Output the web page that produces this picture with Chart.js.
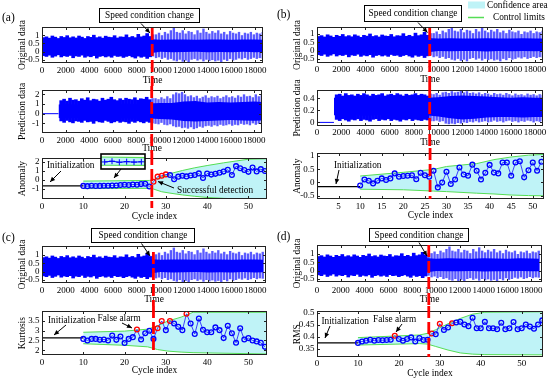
<!DOCTYPE html>
<html><head><meta charset="utf-8">
<script src="https://cdn.jsdelivr.net/npm/chart.js@4.4.1/dist/chart.umd.min.js"></script>
<style>
html,body{margin:0;padding:0;background:#fff;}
body{width:550px;height:380px;position:relative;overflow:hidden;}
canvas{position:absolute;}
</style></head><body>
<script>
// ---------------- DATA ----------------
const timeTicks = [0,2000,4000,6000,8000,10000,12000,14000,16000,18000];
const cycleTicks = [0,10,20,30,40,50];
const cycleTicksB = [5,10,15,20,25,30,35,40,45,50];
const BLOCK = 250; // width of one signal block on the time axis

// original vibration signal: extreme spikes per 250-sample block
const origPeakHi = [0.85,0.9,0.82,0.95,0.88,0.8,0.92,0.86,0.97,0.84,0.9,0.83,0.95,0.88,0.8,0.92,0.87,1.0,0.85,0.9,0.82,0.94,0.88,0.86,0.97,0.83,0.9,0.88,1.02,0.86,0.92,0.85,1.05,0.9,0.95,1.1,0.92,1.05,
  1.05,1.15,1.0,1.2,1.1,1.3,1.45,1.2,1.15,1.3,1.1,1.25,1.2,1.05,1.3,1.15,1.4,1.2,1.1,1.25,1.15,1.3,1.1,1.2,1.05,1.25,1.15,1.1,1.2,1.0,1.15,1.1,1.2,1.05,1.15,1.1,1.2];
const origPeakLo = [-0.25,-0.3,-0.22,-0.35,-0.28,-0.2,-0.33,-0.26,-0.3,-0.24,-0.38,-0.27,-0.3,-0.22,-0.35,-0.28,-0.32,-0.25,-0.4,-0.3,-0.26,-0.33,-0.28,-0.35,-0.24,-0.3,-0.28,-0.36,-0.3,-0.25,-0.33,-0.4,-0.28,-0.35,-0.3,-0.42,-0.32,-0.3,
  -0.4,-0.35,-0.45,-0.38,-0.5,-0.45,-0.55,-0.6,-0.5,-0.62,-0.55,-0.65,-0.5,-0.45,-0.55,-0.48,-0.6,-0.5,-0.58,-0.52,-0.6,-0.55,-0.65,-0.5,-0.58,-0.45,-0.55,-0.5,-0.42,-0.48,-0.4,-0.5,-0.45,-0.38,-0.45,-0.4,-0.42];
const coreTimes = [0,1000,2000,3000,4000,5000,6000,7000,8000,9000,10000,11000,12000,13000,14000,15000,16000,17000,18000,18650];
const origCoreHi = [0.72,0.74,0.72,0.75,0.73,0.74,0.72,0.75,0.74,0.76,0.72,0.74,0.73,0.72,0.74,0.73,0.72,0.74,0.73,0.72];
const origCoreLo = [-0.12,-0.14,-0.12,-0.15,-0.13,-0.12,-0.14,-0.13,-0.15,-0.12,-0.02,-0.04,-0.03,-0.02,-0.05,-0.03,-0.04,-0.02,-0.04,-0.03];

// prediction signals (start at t = 1400)
const predStart = 1400;
const predCoreTimes = [1400,2000,3000,4000,5000,6000,7000,8000,9000,10000,11000,12000,13000,14000,15000,16000,17000,18000,18650];
const predAPeakHi = [null,null,null,null,null,null,
  1.35,1.5,1.3,1.6,1.4,1.45,1.3,1.55,1.4,1.65,1.35,1.5,1.45,1.3,1.6,1.4,1.5,1.7,1.45,1.35,1.55,1.4,1.6,1.5,1.45,1.65,1.4,1.55,1.5,1.7,1.45,1.6,
  1.6,1.5,1.7,1.55,1.8,1.6,2.0,2.2,2.1,2.25,2.0,1.8,1.9,1.7,1.85,1.6,1.75,1.9,1.65,1.8,1.7,1.85,1.6,1.75,1.9,1.7,1.8,1.65,1.9,1.75,2.0,1.8,1.85,1.7,2.0,1.8,1.9];
const predAPeakLo = [null,null,null,null,null,null,
  -0.75,-0.9,-0.7,-0.85,-0.95,-0.75,-0.8,-0.9,-0.7,-0.85,-0.8,-1.0,-0.75,-0.85,-0.9,-0.7,-0.8,-0.95,-0.85,-0.75,-0.9,-0.8,-0.85,-1.0,-0.8,-0.9,-0.75,-0.85,-0.95,-0.8,-0.9,-1.0,
  -1.05,-1.1,-0.95,-1.15,-1.2,-1.1,-1.3,-1.4,-1.35,-1.5,-1.45,-1.55,-1.4,-1.6,-1.5,-1.35,-1.45,-1.3,-1.25,-1.35,-1.2,-1.3,-1.15,-1.25,-1.2,-1.1,-1.25,-1.15,-1.2,-1.05,-1.15,-1.1,-1.2,-1.0,-1.15,-1.05,-1.1];
const predACoreHi = [0.95,1.0,0.95,1.05,1.0,0.95,1.05,1.0,1.05,1.1,1.1,1.25,1.3,1.15,1.2,1.15,1.2,1.25,1.2];
const predACoreLo = [-0.45,-0.5,-0.45,-0.5,-0.48,-0.45,-0.5,-0.52,-0.5,-0.55,-0.6,-0.75,-0.8,-0.75,-0.7,-0.65,-0.7,-0.72,-0.7];

const predBPeakHi = [null,null,null,null,null,null,
  0.46,0.47,0.44,0.48,0.45,0.46,0.44,0.47,0.45,0.48,0.46,0.44,0.47,0.45,0.46,0.48,0.44,0.46,0.47,0.45,0.48,0.46,0.44,0.47,0.45,0.46,0.48,0.45,0.47,0.46,0.44,0.48,
  0.47,0.49,0.46,0.5,0.51,0.49,0.52,0.5,0.51,0.53,0.5,0.52,0.49,0.5,0.48,0.5,0.47,0.49,0.48,0.46,0.49,0.47,0.48,0.46,0.49,0.47,0.45,0.48,0.46,0.47,0.45,0.48,0.46,0.47,0.45,0.47,0.46];
const predBPeakLo = [null,null,null,null,null,null,
  0.05,0.03,0.06,0.04,0.02,0.05,0.04,0.06,0.03,0.05,0.04,0.02,0.05,0.06,0.03,0.05,0.04,0.06,0.03,0.05,0.04,0.02,0.05,0.04,0.06,0.03,0.05,0.04,0.03,0.05,0.04,0.02,
  0.02,0.03,0.01,0.02,-0.02,-0.03,-0.02,-0.03,-0.01,-0.02,0.0,-0.01,0.01,0.0,0.02,0.0,0.01,0.02,0.0,0.01,0.03,0.01,0.02,0.0,0.02,0.03,0.01,0.02,0.0,0.02,0.01,0.03,0.02,0.0,0.02,0.01,0.02];
const predBCoreHi = [0.41,0.42,0.41,0.42,0.41,0.42,0.41,0.42,0.41,0.42,0.44,0.45,0.44,0.43,0.42,0.41,0.42,0.41,0.41];
const predBCoreLo = [0.12,0.11,0.12,0.11,0.12,0.11,0.12,0.11,0.12,0.1,0.07,0.05,0.06,0.08,0.09,0.09,0.08,0.09,0.09];

// (a) anomaly
const cyclesA = [10,11,12,13,14,15,16,17,18,19,20,21,22,23,24,25,26,27,28,29,30,31,32,33,34,35,36,37,38,39,40,41,42,43,44,45,46,47,48,49,50,51,52,53,54];
const anomalyA = [-0.65,-0.68,-0.64,-0.66,-0.65,-0.64,-0.63,-0.62,-0.6,-0.56,-0.52,-0.55,-0.5,-0.52,-0.45,-0.42,-0.72,-0.2,0.37,0.47,
  0.62,0.55,0.08,0.37,0.47,0.4,0.5,0.55,0.73,0.23,0.72,0.6,0.68,0.8,0.93,1.13,0.55,1.53,1.3,1.1,0.9,1.37,0.95,1.2,1.0];
const alarmsA = [27,28,29,30];
const initA = -0.65;
const bandAX  = [10,26,27,29,31,34,37,40,44,47,50,55];
const bandAHi = [-0.12,-0.05,0.05,0.35,0.7,1.05,1.35,1.6,1.9,2.1,2.3,2.35];
const bandALo = [-0.95,-0.92,-1.0,-1.3,-1.45,-1.65,-1.8,-1.93,-2.03,-2.08,-2.1,-2.1];
// zoomed inset of (a)
const insetX = [1,2,3,4,5,6];
const insetVals = [0.47,0.52,0.45,0.49,0.46,0.48];
const insetBandX = [0.5,6.5];
const insetHi = [0.8,0.76];
const insetLo = [0.25,0.24];

// (b) anomaly
const cyclesB = [10,11,12,13,14,15,16,17,18,19,20,21,22,23,24,25,26,27,28,29,30,31,32,33,34,35,36,37,38,39,40,41,42,43,44,45,46,47,48,49,50,51,52];
const anomalyB = [-0.12,0.11,0.06,-0.04,0.06,0.15,0.09,0.15,0.34,0.21,0.24,0.25,0.27,0.12,0.36,0.27,0.21,0.44,-0.19,-0.01,
  0.4,-0.06,0.11,0.56,0.3,0.25,0.67,0.44,0.11,0.36,0.66,0.37,0.34,0.75,0.75,0.25,0.75,0.8,0.19,0.46,0.75,0.44,0.78];
const alarmsB = [];
const initB = -0.16;
const bandBX  = [10,20,27,30,37,41,45,49,53];
const bandBHi = [0.24,0.38,0.49,0.6,0.71,0.86,0.96,1.03,1.06];
const bandBLo = [-0.26,-0.28,-0.33,-0.35,-0.41,-0.44,-0.48,-0.5,-0.51];

// (c) kurtosis
const cyclesC = cyclesA;
const kurtosisC = [2.58,2.5,2.58,2.58,2.53,2.55,2.5,2.75,2.53,2.7,2.37,2.58,2.67,3.06,2.55,2.87,3.0,2.58,3.13,3.5,
  3.03,3.5,3.37,3.2,3.03,3.87,3.37,2.83,3.63,3.05,2.92,2.92,3.17,3.03,2.62,3.25,2.87,2.38,3.13,2.55,2.62,2.5,2.45,2.38,2.17];
const alarmsC = [23,28,29,31,35];
const initC = 2.63;
const bandCX  = [10,20,25.6,28,30.5,33.7,36.6,55];
const bandCHi = [2.92,2.98,3.08,3.25,3.5,3.7,3.95,3.95];
const bandCLo = [2.33,2.25,2.17,2.03,1.95,1.9,1.87,1.8];

// (d) RMS
const cyclesD = [10,11,12,13,14,15,16,17,18,19,20,21,22,23,24,25,26,27,28,29,30,31,32,33,34,35,36,37,38,39,40,41,42,43,44,45,46,47,48,49,50,51,52,53,54,55];
const rmsD = [0.375,0.381,0.384,0.388,0.384,0.387,0.386,0.387,0.388,0.405,0.391,0.384,0.391,0.398,0.381,0.395,0.387,0.388,0.414,0.411,
  0.455,0.429,0.439,0.457,0.46,0.463,0.452,0.445,0.48,0.436,0.436,0.463,0.436,0.436,0.432,0.459,0.432,0.436,0.462,0.432,0.436,0.452,0.443,0.434,0.452,0.469];
const alarmsD = [19,28,30,33];
const initD = 0.375;
const bandDX  = [10,25,27,29,32,35,38,41,56];
const bandDHi = [0.397,0.408,0.415,0.43,0.455,0.477,0.495,0.503,0.505];
const bandDLo = [0.366,0.372,0.37,0.36,0.345,0.333,0.328,0.326,0.325];

const speedChangeTime = 9300;

// ---------------- STYLE / HELPERS ----------------
const FONT = '"Liberation Serif","Times New Roman",serif';
Chart.defaults.font.family = FONT;
Chart.defaults.color = '#000';
const BLUE = '#0000ff', GREEN = '#55dd55', CYAN = '#bff3f7', RED = '#ff0000';
const TXT = 9.3;

function arrow(ctx, x1, y1, x2, y2) {
  ctx.strokeStyle = '#000'; ctx.lineWidth = 1; ctx.setLineDash([]);
  ctx.beginPath(); ctx.moveTo(x1, y1); ctx.lineTo(x2, y2); ctx.stroke();
  const a = Math.atan2(y2 - y1, x2 - x1), L = 5, W = 2.3;
  ctx.beginPath(); ctx.moveTo(x2, y2);
  ctx.lineTo(x2 - L * Math.cos(a) + W * Math.sin(a), y2 - L * Math.sin(a) - W * Math.cos(a));
  ctx.lineTo(x2 - L * Math.cos(a) - W * Math.sin(a), y2 - L * Math.sin(a) + W * Math.cos(a));
  ctx.closePath(); ctx.fillStyle = '#000'; ctx.fill();
}

function decorPlugin(p) {
  return {
    id: 'decor',
    afterDraw(chart) {
      const ctx = chart.ctx, ca = chart.chartArea;
      const cx = p.canvas[0], cy = p.canvas[1];
      const X = v => v - cx, Y = v => v - cy;
      const xs = chart.scales.x, ys = chart.scales.y;
      ctx.save();
      const l = Math.round(ca.left) + 0.5, t = Math.round(ca.top) + 0.5, r = Math.round(ca.right) - 0.5, b = Math.round(ca.bottom) - 0.5;
      ctx.strokeStyle = '#222'; ctx.lineWidth = 1;
      ctx.strokeRect(l, t, r - l, b - t);
      ctx.beginPath();
      p.xTicks.forEach(v => { const px = Math.round(xs.getPixelForValue(v)) + 0.5; if (px < l || px > r) return;
        ctx.moveTo(px, b); ctx.lineTo(px, b - 2.5); ctx.moveTo(px, t); ctx.lineTo(px, t + 2.5); });
      p.yTicks.forEach(v => { const py = Math.round(ys.getPixelForValue(v)) + 0.5;
        ctx.moveTo(l, py); ctx.lineTo(l + 2.5, py); ctx.moveTo(r, py); ctx.lineTo(r - 2.5, py); });
      ctx.stroke();
      if (p.red) {
        const px = xs.getPixelForValue(p.red.v);
        ctx.strokeStyle = RED; ctx.lineWidth = 2.8; ctx.setLineDash([12, 4]);
        ctx.beginPath(); ctx.moveTo(px, Y(p.red.y0)); ctx.lineTo(px, Y(p.red.y1)); ctx.stroke();
        ctx.setLineDash([]);
      }
      ctx.textBaseline = 'middle';
      if (p.label) { ctx.fillStyle = '#000'; ctx.font = '11.5px ' + FONT; ctx.textAlign = 'left'; ctx.fillText(p.label[0], X(p.label[1]), Y(p.label[2])); }
      if (p.speedBox) {
        const [bl, bt, br, bb] = p.speedBox;
        ctx.fillStyle = '#fff'; ctx.fillRect(X(bl), Y(bt), br - bl, bb - bt);
        ctx.strokeStyle = '#000'; ctx.lineWidth = 1; ctx.strokeRect(X(bl) + 0.5, Y(bt) + 0.5, br - bl - 1, bb - bt - 1);
        ctx.fillStyle = '#000'; ctx.font = TXT + 'px ' + FONT; ctx.textAlign = 'center';
        ctx.fillText('Speed condition change', X((bl + br) / 2), Y((bt + bb) / 2) + 0.5);
        const a = p.speedArrow; arrow(ctx, X(a[0]), Y(a[1]), X(a[2]), Y(a[3]));
      }
      if (p.legend) {
        ctx.fillStyle = CYAN; ctx.fillRect(X(468), Y(1.5), 17, 7);
        ctx.strokeStyle = GREEN; ctx.lineWidth = 1.5; ctx.beginPath(); ctx.moveTo(X(468), Y(17.5)); ctx.lineTo(X(484), Y(17.5)); ctx.stroke();
        ctx.fillStyle = '#000'; ctx.font = TXT + 'px ' + FONT; ctx.textAlign = 'left';
        ctx.fillText('Confidence area', X(487), Y(6));
        ctx.fillText('Control limits', X(493), Y(17.5));
      }
      (p.texts || []).forEach(tx => { ctx.fillStyle = '#000'; ctx.font = TXT + 'px ' + FONT; ctx.textAlign = 'left'; ctx.fillText(tx[0], X(tx[1]), Y(tx[2])); });
      (p.arrows || []).forEach(a => arrow(ctx, X(a[0]), Y(a[1]), X(a[2]), Y(a[3])));
      ctx.restore();
    }
  };
}

function makeCanvas(r) {
  const cv = document.createElement('canvas');
  cv.width = r[2]; cv.height = r[3];
  Object.assign(cv.style, {left: r[0] + 'px', top: r[1] + 'px', width: r[2] + 'px', height: r[3] + 'px'});
  document.body.appendChild(cv);
  return cv;
}

function makePanel(p) {
  const [cx, cy, cw, ch] = p.canvas; const [l, t, r, b] = p.plot;
  const cv = makeCanvas(p.canvas);
  const tsz = 9.5, tlh = tsz * 1.2;
  const xTitlePad = (cy + ch) - p.xTitleY - tlh / 2;
  const yTitlePad = (p.yTitleX - cx) - tlh / 2;
  const tickFont = {family: FONT, size: 9};
  return new Chart(cv, {
    type: 'line',
    data: {datasets: p.datasets},
    options: {
      responsive: false, animation: false, events: [], devicePixelRatio: 1,
      layout: {padding: {left: 0, top: t - cy, right: cx + cw - r, bottom: 0}},
      plugins: {legend: {display: false}, tooltip: {enabled: false}, filler: {drawTime: p.fillTime || 'beforeDatasetDraw'}},
      scales: {
        x: {type: 'linear', min: p.xMin, max: p.xMax, offset: false,
          grid: {display: false, drawTicks: false, offset: false}, border: {display: false},
          ticks: {font: tickFont, padding: p.xTickPad ?? 2, maxRotation: 0, minRotation: 0, autoSkip: false, callback: v => String(v)},
          afterBuildTicks: s => { s.ticks = p.xTicks.map(v => ({value: v})); },
          afterFit: s => { s.height = (cy + ch) - b; s.paddingLeft = 0; s.paddingRight = 0; },
          title: {display: true, text: p.xTitle, font: {family: FONT, size: tsz, lineHeight: 1.2}, padding: {top: 0, bottom: xTitlePad}}},
        y: {type: 'linear', min: p.yMin, max: p.yMax,
          grid: {display: false, drawTicks: false}, border: {display: false},
          ticks: {font: tickFont, padding: 2.5, autoSkip: false, callback: v => String(v)},
          afterBuildTicks: s => { s.ticks = p.yTicks.map(v => ({value: v})); },
          afterFit: s => { s.width = l - cx; s.paddingTop = 0; s.paddingBottom = 0; },
          title: {display: true, text: p.yTitle, font: {family: FONT, size: tsz, lineHeight: 1.2}, padding: {top: yTitlePad, bottom: 0}}}
      }
    },
    plugins: [decorPlugin(p)]
  });
}

function signalDatasets(peakHi, peakLo, cT, cHi, cLo, flatUntil) {
  const pre = [], post = [];
  peakHi.forEach((h, i) => {
    if (h === null) return;
    const x = i * BLOCK + BLOCK / 2;
    (x < speedChangeTime ? pre : post).push({x, y: [peakLo[i], h]});
  });
  const ds = [
    {type: 'line', data: cT.map((x, i) => ({x, y: cHi[i]})), borderWidth: 0, borderColor: 'rgba(0,0,0,0)', pointRadius: 0, fill: '+1', backgroundColor: BLUE, order: 0},
    {type: 'line', data: cT.map((x, i) => ({x, y: cLo[i]})), borderWidth: 0, borderColor: 'rgba(0,0,0,0)', pointRadius: 0, fill: false, order: 0},
    {type: 'bar', data: pre, grouped: false, barPercentage: 1.0, categoryPercentage: 1, borderWidth: 0, backgroundColor: BLUE, order: 1},
    {type: 'bar', data: post, grouped: false, barPercentage: 0.8, categoryPercentage: 1, borderWidth: 0, backgroundColor: 'rgba(20,20,255,0.7)', order: 1}
  ];
  if (flatUntil) ds.push({type: 'line', data: [{x: 0, y: 0}, {x: flatUntil, y: 0}], borderColor: BLUE, borderWidth: 1, pointRadius: 0, fill: false, order: 0});
  return ds;
}

function anomalyDatasets(cycles, vals, alarms, init, bX, bHi, bLo) {
  return [
    {data: cycles.map((x, i) => ({x, y: vals[i]})), borderColor: '#2a2aff', borderWidth: 0.9, pointRadius: 2.4, pointBorderWidth: 1.3,
      pointBackgroundColor: 'rgba(0,0,0,0)', pointBorderColor: cycles.map(c => alarms.includes(c) ? RED : BLUE), fill: false, order: 0},
    {data: [{x: 0, y: init}, {x: cycles[0], y: init}], borderColor: '#000', borderWidth: 1.2, pointRadius: 0, fill: false, order: 1},
    {data: bX.map((x, i) => ({x, y: bHi[i]})), borderColor: GREEN, borderWidth: 1, pointRadius: 0, fill: '+1', backgroundColor: CYAN, order: 2},
    {data: bX.map((x, i) => ({x, y: bLo[i]})), borderColor: GREEN, borderWidth: 1, pointRadius: 0, fill: false, order: 3}
  ];
}

// ---------------- PANELS ----------------
// (a)
makePanel({canvas: [0, 0, 275, 86], plot: [42, 27, 263, 63], xMin: 0, xMax: 18650, yMin: -0.7, yMax: 1.5,
  xTicks: timeTicks, yTicks: [-0.5, 0, 0.5, 1], xTitle: 'Time', yTitle: 'Original data', xTitleY: 80, yTitleX: 22,
  datasets: signalDatasets(origPeakHi, origPeakLo, coreTimes, origCoreHi, origCoreLo),
  red: {v: speedChangeTime, y0: 28, y1: 86}, label: ['(a)', 2, 18], speedBox: [99, 8, 200, 23], speedArrow: [141, 23.5, 150, 33]});
makePanel({canvas: [0, 78, 275, 75], plot: [42, 90, 262, 133], xMin: 0, xMax: 18650, yMin: -2, yMax: 2.45,
  xTicks: timeTicks, yTicks: [-1, 0, 1, 2], xTitle: 'Time', yTitle: 'Prediction data', xTitleY: 148, yTitleX: 22,
  datasets: signalDatasets(predAPeakHi, predAPeakLo, predCoreTimes, predACoreHi, predACoreLo, predStart),
  red: {v: speedChangeTime, y0: 86, y1: 153}});
makePanel({canvas: [0, 153, 275, 71], plot: [42, 154, 267, 199], xMin: 0, xMax: 54.5, yMin: -2.1, yMax: 2.4,
  xTicks: cycleTicks, yTicks: [-1, 0, 1, 2], xTitle: 'Cycle index', yTitle: 'Anomaly', xTitleY: 216, yTitleX: 22, fillTime: 'beforeDatasetsDraw',
  datasets: anomalyDatasets(cyclesA, anomalyA, alarmsA, initA, bandAX, bandAHi, bandALo),
  red: {v: 26.6, y0: 153, y1: 208},
  texts: [['Initialization', 47, 166], ['Successful detection', 177, 190.5]],
  arrows: [[61, 171, 50, 182], [174, 188, 158, 181.5], [121, 169, 114, 178]]});
// inset
(function () {
  const rect = [96, 149, 54, 26];
  const cv = makeCanvas(rect);
  new Chart(cv, {
    type: 'line',
    data: {datasets: [
      {data: insetX.map((x, i) => ({x, y: insetVals[i]})), borderColor: BLUE, borderWidth: 1, pointStyle: 'cross', pointRadius: 3, pointBorderWidth: 1, pointBorderColor: BLUE, fill: false, order: 0},
      {data: insetBandX.map((x, i) => ({x, y: insetHi[i]})), borderColor: GREEN, borderWidth: 1.2, pointRadius: 0, fill: '+1', backgroundColor: CYAN, order: 1},
      {data: insetBandX.map((x, i) => ({x, y: insetLo[i]})), borderColor: GREEN, borderWidth: 1.2, pointRadius: 0, fill: false, order: 2}
    ]},
    options: {responsive: false, animation: false, events: [], devicePixelRatio: 1,
      layout: {padding: {left: 3, top: 3, right: 5, bottom: 6}},
      plugins: {legend: {display: false}, tooltip: {enabled: false}, filler: {drawTime: 'beforeDatasetsDraw'}},
      scales: {x: {type: 'linear', display: false, min: 0.5, max: 6.5}, y: {type: 'linear', display: false, min: 0, max: 1}}},
    plugins: [{id: 'insetBox', afterDraw(chart) { const c = chart.ctx, a = chart.chartArea; c.save(); c.strokeStyle = '#000'; c.lineWidth = 1.6;
      c.strokeRect(a.left, a.top, a.right - a.left, a.bottom - a.top); c.restore(); }}]
  });
})();

// (b)
makePanel({canvas: [275, 0, 275, 86], plot: [317, 27, 543, 63], xMin: 0, xMax: 18650, yMin: -0.75, yMax: 1.42,
  xTicks: timeTicks, yTicks: [-0.5, 0, 0.5, 1], xTitle: 'Time', yTitle: 'Original data', xTitleY: 79, yTitleX: 297, xTickPad: 1,
  datasets: signalDatasets(origPeakHi, origPeakLo, coreTimes, origCoreHi, origCoreLo),
  red: {v: speedChangeTime, y0: 28, y1: 86}, label: ['(b)', 277, 15], speedBox: [364, 5, 462, 22], speedArrow: [418, 22.5, 427.5, 32.5], legend: true});
makePanel({canvas: [275, 76, 275, 72], plot: [317, 90, 543, 126], xMin: 0, xMax: 18650, yMin: -0.06, yMax: 0.54,
  xTicks: timeTicks, yTicks: [0, 0.2, 0.4], xTitle: 'Time', yTitle: 'Prediction data', xTitleY: 142, yTitleX: 297, xTickPad: 1,
  datasets: signalDatasets(predBPeakHi, predBPeakLo, predCoreTimes, predBCoreHi, predBCoreLo, predStart),
  red: {v: speedChangeTime, y0: 86, y1: 148}});
makePanel({canvas: [275, 148, 275, 76], plot: [317, 153, 544, 199], xMin: 0, xMax: 52.6, yMin: -0.63, yMax: 1.1,
  xTicks: cycleTicksB, yTicks: [-0.5, 0, 0.5, 1], xTitle: 'Cycle index', yTitle: 'Anomaly', xTitleY: 215, yTitleX: 297, fillTime: 'beforeDatasetsDraw',
  datasets: anomalyDatasets(cyclesB, anomalyB, alarmsB, initB, bandBX, bandBHi, bandBLo),
  red: {v: 26.2, y0: 148, y1: 199},
  texts: [['Initialization', 334, 166]], arrows: [[339, 170, 336, 184]]});

// (c)
makePanel({canvas: [0, 224, 275, 82], plot: [42, 246, 266, 283], xMin: 0, xMax: 18900, yMin: -0.68, yMax: 1.55,
  xTicks: timeTicks, yTicks: [-0.5, 0, 0.5, 1], xTitle: 'Time', yTitle: 'Original data', xTitleY: 299, yTitleX: 22,
  datasets: signalDatasets(origPeakHi, origPeakLo, coreTimes, origCoreHi, origCoreLo),
  red: {v: 9400, y0: 252, y1: 306}, label: ['(c)', 2, 238], speedBox: [91, 228, 195, 243], speedArrow: [141.5, 243.5, 150, 256]});
makePanel({canvas: [0, 306, 275, 74], plot: [42, 310, 267, 355], xMin: 0, xMax: 54.5, yMin: 1.75, yMax: 4.0,
  xTicks: cycleTicks, yTicks: [2, 2.5, 3, 3.5], xTitle: 'Cycle index', yTitle: 'Kurtosis', xTitleY: 370, yTitleX: 22, fillTime: 'beforeDatasetsDraw',
  datasets: anomalyDatasets(cyclesC, kurtosisC, alarmsC, initC, bandCX, bandCHi, bandCLo),
  red: {v: 27, y0: 306, y1: 352},
  texts: [['Initialization', 48, 321], ['False alarm', 97.5, 318.5]], arrows: [[66, 325, 54, 335], [122, 323, 132, 328]]});

// (d)
makePanel({canvas: [275, 224, 275, 82], plot: [317, 245, 542, 282], xMin: 0, xMax: 18900, yMin: -0.68, yMax: 1.54,
  xTicks: timeTicks, yTicks: [-0.5, 0, 0.5, 1], xTitle: 'Time', yTitle: 'Original data', xTitleY: 299, yTitleX: 297, xTickPad: 3,
  datasets: signalDatasets(origPeakHi, origPeakLo, coreTimes, origCoreHi, origCoreLo),
  red: {v: 9390, y0: 245, y1: 306}, label: ['(d)', 277, 237], speedBox: [369, 228, 469, 242], speedArrow: [419, 242.5, 427, 256]});
makePanel({canvas: [275, 306, 275, 74], plot: [317, 310, 543, 357], xMin: 0, xMax: 55.2, yMin: 0.316, yMax: 0.507,
  xTicks: cycleTicks, yTicks: [0.35, 0.4, 0.45, 0.5], xTitle: 'Cycle index', yTitle: 'RMS', xTitleY: 373, yTitleX: 297, xTickPad: 1, fillTime: 'beforeDatasetsDraw',
  datasets: anomalyDatasets(cyclesD, rmsD, alarmsD, initD, bandDX, bandDHi, bandDLo),
  red: {v: 27.3, y0: 306, y1: 357},
  texts: [['Initialization', 321.5, 321.5], ['False alarm', 373, 319.5]], arrows: [[330, 326, 325, 338], [402, 324, 396, 332]]});
</script>
</body></html>
